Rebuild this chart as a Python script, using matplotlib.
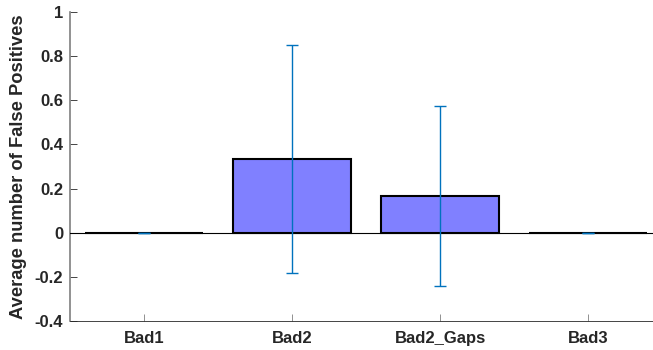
import numpy as np
import matplotlib.pyplot as plt

plt.rcParams['font.family'] = ['Liberation Sans', 'DejaVu Sans']
plt.rcParams['font.weight'] = 'bold'

groups = ['Bad1', 'Bad2', 'Bad2_Gaps', 'Bad3']
mean_fp = [0.0, 0.3333, 0.1667, 0.0]
std_fp = [0.0, 0.5164, 0.4082, 0.0]

axcol = '#262626'
fig = plt.figure(figsize=(6.53, 3.5), dpi=100)
ax = fig.add_axes([70 / 653, 29 / 350, 592 / 653, 309 / 350])

x = np.arange(1, len(groups) + 1)
ax.bar(x, mean_fp, width=0.8, color='#8080ff', edgecolor='black', linewidth=1.5, zorder=2)
ax.axhline(0, color='black', linewidth=0.8, zorder=3)
ax.errorbar(x, mean_fp, yerr=std_fp, fmt='none', ecolor='#0072BD', elinewidth=1,
            capsize=4, capthick=1, zorder=4)

ax.set_xlim(0.5, 4.5)
ax.set_ylim(-0.4, 1)
ax.set_xticks(x)
ax.set_xticklabels(groups)
ax.set_yticks(np.arange(-0.4, 1.01, 0.2))
ax.set_yticklabels(['-0.4', '-0.2', '0', '0.2', '0.4', '0.6', '0.8', '1'])
ax.set_ylabel('Average number of False Positives', fontsize=13.2, fontweight='bold', color=axcol)
ax.yaxis.set_label_coords(-0.073, 0.5)

for side in ['top', 'right']:
    ax.spines[side].set_visible(False)
ax.spines['bottom'].set_color(axcol)
ax.spines['bottom'].set_linewidth(0.6)
ax.spines['left'].set_color('#7f7f7f')
ax.spines['left'].set_linewidth(1.2)
ax.tick_params(direction='in', length=5, width=0.6, colors=axcol, labelsize=12)
ax.tick_params(axis='y', pad=5)
ax.tick_params(axis='x', colors='#7f7f7f', labelcolor=axcol, pad=7)

fig.savefig('out.png', dpi=100)
